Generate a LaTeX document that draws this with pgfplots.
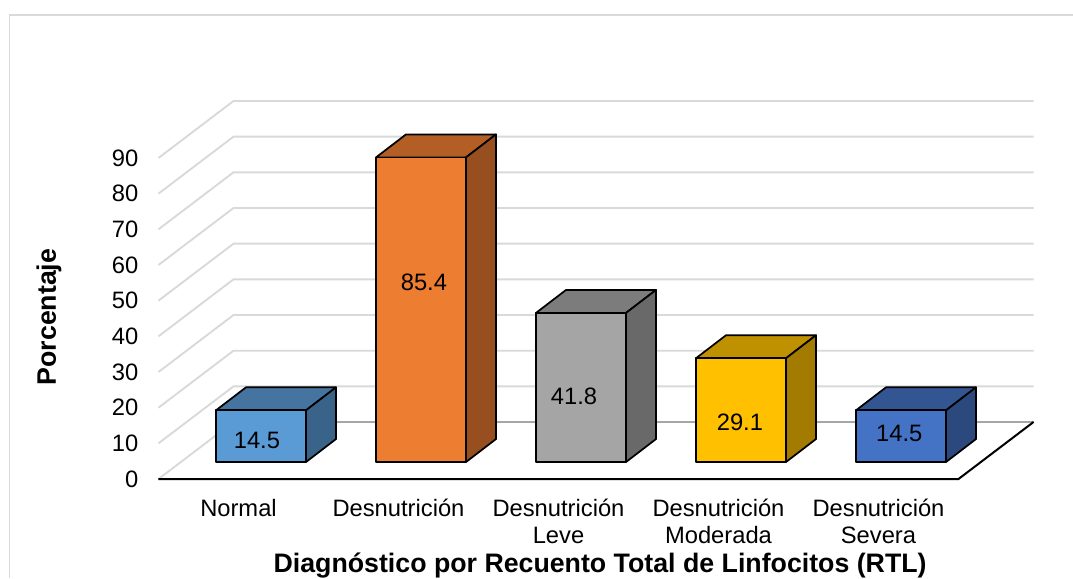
\documentclass[border=0pt]{standalone}
\usepackage{pgfplots}
\pgfplotsset{compat=1.18}
\usepackage{fontspec}
\setmainfont{Liberation Sans}
\definecolor{gridc}{HTML}{D9D9D9}
\definecolor{floorc}{HTML}{A6A6A6}
\definecolor{aF}{HTML}{5B9BD5}\definecolor{aT}{HTML}{44749F}\definecolor{aS}{HTML}{3A6389}
\definecolor{bF}{HTML}{ED7D31}\definecolor{bT}{HTML}{B25E25}\definecolor{bS}{HTML}{984F1F}
\definecolor{cF}{HTML}{A5A5A5}\definecolor{cT}{HTML}{7C7C7C}\definecolor{cS}{HTML}{696969}
\definecolor{dF}{HTML}{FFC000}\definecolor{dT}{HTML}{BF9000}\definecolor{dS}{HTML}{A37B00}
\definecolor{eF}{HTML}{4472C4}\definecolor{eT}{HTML}{335693}\definecolor{eS}{HTML}{2C497D}
\newcommand{\fs}{\fontsize{17.8pt}{20.25pt}\selectfont}
\newcommand{\fb}{\fontsize{20.05pt}{22pt}\selectfont\bfseries}
\begin{document}
\begin{tikzpicture}
\useasboundingbox (-118.875pt,-74.25pt) rectangle (685.875pt,359.25pt);
\fill[white] (-118.875pt,-74.25pt) rectangle (685.875pt,359.25pt);
\draw[gridc,line width=1.2pt] (-111.75pt,-74.25pt) -- (-111.75pt,348pt) -- (685.875pt,348pt);
\begin{axis}[
  scale only axis, width=656.25pt, height=283.5pt,
  xmin=-0.5, xmax=4.96875, ymin=0, ymax=105.97,
  clip=false,
  axis line style={draw=none},
  tick style={draw=none},
  major tick length=0pt,
  xtick={0,1,2,3,4},
  xticklabels={Normal,Desnutrición,{Desnutrición\\Leve},{Desnutrición\\Moderada},{Desnutrición\\Severa}},
  ytick={0,10,...,90},
  /pgf/number format/assume math mode=true,
  tick label style={font=\fs},
  xticklabel style={align=center,anchor=north,inner sep=0pt,yshift=-15pt},
  yticklabel style={anchor=east,inner sep=0pt,xshift=-15pt},
  xlabel={Diagnóstico por Recuento Total de Linfocitos (RTL)},
  ylabel={Porcentaje},
  every axis x label/.style={at={(axis cs:2.26,-24.3)},anchor=center,font=\fb},
  every axis y label/.style={at={(axis cs:-1.185,45.4)},anchor=center,rotate=90,font=\fb},
]
% walls
\addplot[gridc,line width=1.4pt] coordinates {(-0.5,10)(-0.03125,25.97)(4.96875,25.97)};
\addplot[gridc,line width=1.4pt] coordinates {(-0.5,20)(-0.03125,35.97)(4.96875,35.97)};
\addplot[gridc,line width=1.4pt] coordinates {(-0.5,30)(-0.03125,45.97)(4.96875,45.97)};
\addplot[gridc,line width=1.4pt] coordinates {(-0.5,40)(-0.03125,55.97)(4.96875,55.97)};
\addplot[gridc,line width=1.4pt] coordinates {(-0.5,50)(-0.03125,65.97)(4.96875,65.97)};
\addplot[gridc,line width=1.4pt] coordinates {(-0.5,60)(-0.03125,75.97)(4.96875,75.97)};
\addplot[gridc,line width=1.4pt] coordinates {(-0.5,70)(-0.03125,85.97)(4.96875,85.97)};
\addplot[gridc,line width=1.4pt] coordinates {(-0.5,80)(-0.03125,95.97)(4.96875,95.97)};
\addplot[gridc,line width=1.4pt] coordinates {(-0.5,90)(-0.03125,105.97)(4.96875,105.97)};
\addplot[gridc,line width=1.4pt] coordinates {(-0.5,0)(-0.03125,15.97)};
\addplot[floorc,line width=1.8pt] coordinates {(-0.03125,15.97)(4.96875,15.97)};
\addplot[black,line width=1.5pt] coordinates {(-0.5,0)(4.5,0)(4.96875,15.97)};
% bar 1: 14.5
\addplot[draw=black,line width=1.3pt,line join=round,fill=aT] coordinates {(-0.1406,19.26)(0.0469,25.7)(0.6094,25.7)(0.4219,19.26)} --cycle;
\addplot[draw=black,line width=1.3pt,line join=round,fill=aS] coordinates {(0.4219,19.26)(0.6094,25.7)(0.6094,11.2)(0.4219,4.76)} --cycle;
\addplot[draw=black,line width=1.3pt,line join=round,fill=aF] coordinates {(-0.1406,4.76)(-0.1406,19.26)(0.4219,19.26)(0.4219,4.76)} --cycle;
% bar 2: 85.4
\addplot[draw=black,line width=1.3pt,line join=round,fill=bT] coordinates {(0.8594,90.16)(1.0469,96.6)(1.6094,96.6)(1.4219,90.16)} --cycle;
\addplot[draw=black,line width=1.3pt,line join=round,fill=bS] coordinates {(1.4219,90.16)(1.6094,96.6)(1.6094,11.2)(1.4219,4.76)} --cycle;
\addplot[draw=black,line width=1.3pt,line join=round,fill=bF] coordinates {(0.8594,4.76)(0.8594,90.16)(1.4219,90.16)(1.4219,4.76)} --cycle;
% bar 3: 41.8
\addplot[draw=black,line width=1.3pt,line join=round,fill=cT] coordinates {(1.8594,46.56)(2.0469,53.0)(2.6094,53.0)(2.4219,46.56)} --cycle;
\addplot[draw=black,line width=1.3pt,line join=round,fill=cS] coordinates {(2.4219,46.56)(2.6094,53.0)(2.6094,11.2)(2.4219,4.76)} --cycle;
\addplot[draw=black,line width=1.3pt,line join=round,fill=cF] coordinates {(1.8594,4.76)(1.8594,46.56)(2.4219,46.56)(2.4219,4.76)} --cycle;
% bar 4: 29.1
\addplot[draw=black,line width=1.3pt,line join=round,fill=dT] coordinates {(2.8594,33.86)(3.0469,40.3)(3.6094,40.3)(3.4219,33.86)} --cycle;
\addplot[draw=black,line width=1.3pt,line join=round,fill=dS] coordinates {(3.4219,33.86)(3.6094,40.3)(3.6094,11.2)(3.4219,4.76)} --cycle;
\addplot[draw=black,line width=1.3pt,line join=round,fill=dF] coordinates {(2.8594,4.76)(2.8594,33.86)(3.4219,33.86)(3.4219,4.76)} --cycle;
% bar 5: 14.5
\addplot[draw=black,line width=1.3pt,line join=round,fill=eT] coordinates {(3.8594,19.26)(4.0469,25.7)(4.6094,25.7)(4.4219,19.26)} --cycle;
\addplot[draw=black,line width=1.3pt,line join=round,fill=eS] coordinates {(4.4219,19.26)(4.6094,25.7)(4.6094,11.2)(4.4219,4.76)} --cycle;
\addplot[draw=black,line width=1.3pt,line join=round,fill=eF] coordinates {(3.8594,4.76)(3.8594,19.26)(4.4219,19.26)(4.4219,4.76)} --cycle;
% value labels
\node[font=\fs,inner sep=0pt] at (axis cs:0.115,10.9) {14.5};
\node[font=\fs,inner sep=0pt] at (axis cs:1.159,55.2) {85.4};
\node[font=\fs,inner sep=0pt] at (axis cs:2.097,23.2) {41.8};
\node[font=\fs,inner sep=0pt] at (axis cs:3.134,16.0) {29.1};
\node[font=\fs,inner sep=0pt] at (axis cs:4.13,12.9) {14.5};
\end{axis}
\end{tikzpicture}
\end{document}
